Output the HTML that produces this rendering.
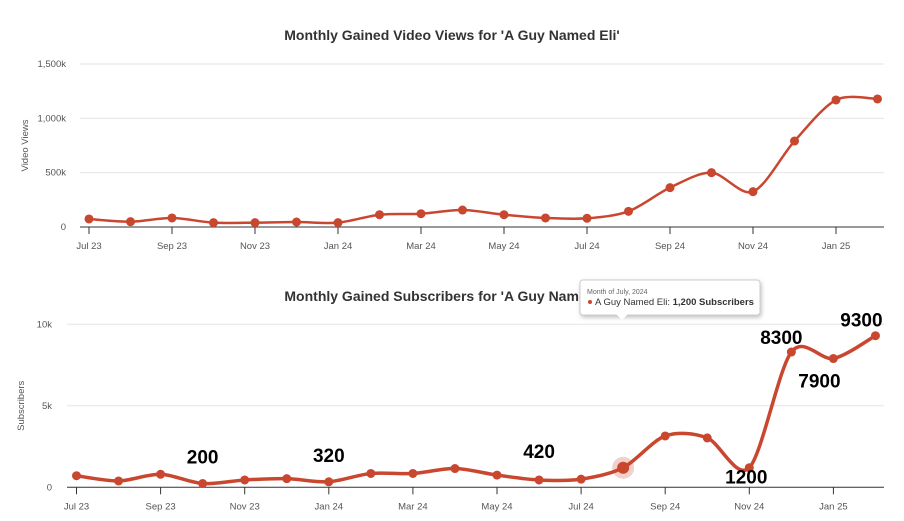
<!DOCTYPE html>
<html><head><meta charset="utf-8">
<style>
body{margin:0;background:#fff;width:904px;height:521px;overflow:hidden;font-family:"Liberation Sans",sans-serif;}
svg{display:block}
.t{font-size:9.5px;fill:#555}
.title{font-size:14px;font-weight:bold;fill:#333}
.lbl{font-size:19px;font-weight:bold;fill:#000}
</style></head>
<body>
<svg id="c" width="904" height="521" viewBox="0 0 904 521"></svg>
<script>
const months=["Jul 23","Aug 23","Sep 23","Oct 23","Nov 23","Dec 23","Jan 24","Feb 24","Mar 24","Apr 24","May 24","Jun 24","Jul 24","Aug 24","Sep 24","Oct 24","Nov 24","Dec 24","Jan 25","Feb 25"];
const viewsK=[74,49,83,40,40,46,40,113,122,156,113,83,80,144,362,500,325,791,1169,1178];
const subs=[710,390,800,230,450,530,340,850,850,1150,750,450,500,1200,3150,3030,1200,8300,7900,9300];
const viewTicks=[0,500,1000,1500];
const viewTickLabels=["0","500k","1,000k","1,500k"];
const subTicks=[0,5000,10000];
const subTickLabels=["0","5k","10k"];
const annIdx=[3,6,11,16,17,18,19];
const annText=["200","320","420","1200","8300","7900","9300"];
const annDx=[0,0,0,-3,-10,-14,-14];
const annDy=[-20,-20,-22,+16,-8,+29,-9];
const NS="http://www.w3.org/2000/svg";
const svg=document.getElementById('c');
function el(t,a,p){const e=document.createElementNS(NS,t);for(const k in a)e.setAttribute(k,a[k]);(p||svg).appendChild(e);return e;}
function smooth(pts){let d="M"+pts[0][0]+","+pts[0][1];for(let i=0;i<pts.length-1;i++){const p0=pts[Math.max(0,i-1)],p1=pts[i],p2=pts[i+1],p3=pts[Math.min(pts.length-1,i+2)];const t=0.15;d+=" C"+(p1[0]+(p2[0]-p0[0])*t)+","+(p1[1]+(p2[1]-p0[1])*t)+" "+(p2[0]-(p3[0]-p1[0])*t)+","+(p2[1]-(p3[1]-p1[1])*t)+" "+p2[0]+","+p2[1];}return d;}
function chart(cfg){
  const g=el('g',{});
  
  
  const x=i=>cfg.x0+i*cfg.dx;
  const y=v=>cfg.y0-(v/cfg.ymax)*(cfg.y0-cfg.ytop);
  cfg.ticks.forEach((v,i)=>{
    if(v>0){const gl=el('line',{x1:cfg.gx,x2:884,y1:y(v),y2:y(v),stroke:'#e6e6e6'},g);}
    const t=el('text',{x:cfg.lx,y:y(v)+3,'text-anchor':'end',class:'t'},g);t.textContent=cfg.tickLabels[i];
    
  });
  const ax=el('line',{x1:cfg.gx,x2:884,y1:cfg.y0,y2:cfg.y0,stroke:'#333','stroke-width':1},g);
  
  months.forEach((m,i)=>{if(i%2)return;
    el('line',{x1:x(i),x2:x(i),y1:cfg.y0,y2:cfg.y0+7,stroke:'#333'},g);
    const t=el('text',{x:x(i),y:cfg.y0+22,'text-anchor':'middle',class:'t'},g);t.textContent=m;
    });
  const yt=el('text',{x:0,y:0,transform:`translate(${cfg.ytx},${(cfg.y0+cfg.ytop)/2}) rotate(-90)`,'text-anchor':'middle',class:'t'},g);
  yt.textContent=cfg.ytitle;
  const tt=el('text',{x:452,y:cfg.ty,'text-anchor':'middle',class:'title'},g);tt.textContent=cfg.title;
  
  const pts=cfg.data.map((v,i)=>[x(i),y(v)]);
  const p=el('path',{d:smooth(pts),fill:'none',stroke:'#c9472f','stroke-width':cfg.lw},g);
  
  pts.forEach((q,i)=>{
    if(cfg.hover===i){const h=el('circle',{cx:q[0],cy:q[1],r:11,fill:'#c9472f','fill-opacity':0.25},g);}
    const c=el('circle',{cx:q[0],cy:q[1],r:cfg.hover===i?6:4.5,fill:'#c9472f'},g);
    
  });
  return {x,y};
}
chart({name:'views-chart',x0:89,dx:41.5,y0:227,ytop:64,ymax:1500,gx:80,lx:66,ticks:viewTicks,tickLabels:viewTickLabels,data:viewsK,ytitle:'Video Views',ytx:28,ty:40,title:"Monthly Gained Video Views for 'A Guy Named Eli'",lw:2.5});
const s=chart({name:'subscribers-chart',x0:76.5,dx:42.05,y0:487.3,ytop:324.3,ymax:10000,gx:67,lx:52,ticks:subTicks,tickLabels:subTickLabels,data:subs,ytitle:'Subscribers',ytx:24,ty:301,title:"Monthly Gained Subscribers for 'A Guy Named Eli'",lw:3.5,hover:13});
annIdx.forEach((k,j)=>{
  const t=el('text',{x:s.x(k)+annDx[j],y:s.y(subs[k])+annDy[j],'text-anchor':'middle',class:'lbl'});
  t.textContent=annText[j];
  
  
});
const tg=el('g',{});


el('rect',{x:580,y:280,width:180,height:35,rx:3,fill:'#fff',stroke:'#ccc',style:'filter:drop-shadow(1px 2px 2px rgba(0,0,0,0.25))'},tg);
el('path',{d:'M616,314 L622,320 L628,314 Z',fill:'#fff'},tg);
const t1=el('text',{x:587,y:294,style:'font-size:7px;fill:#666'},tg);t1.textContent='Month of July, 2024';
el('circle',{cx:590,cy:302,r:2,fill:'#c9472f'},tg);
const t2=el('text',{x:595,y:305,style:'font-size:9.5px;fill:#333'},tg);t2.innerHTML='A Guy Named Eli: <tspan font-weight="bold">1,200 Subscribers</tspan>';
</script>
</body></html>
